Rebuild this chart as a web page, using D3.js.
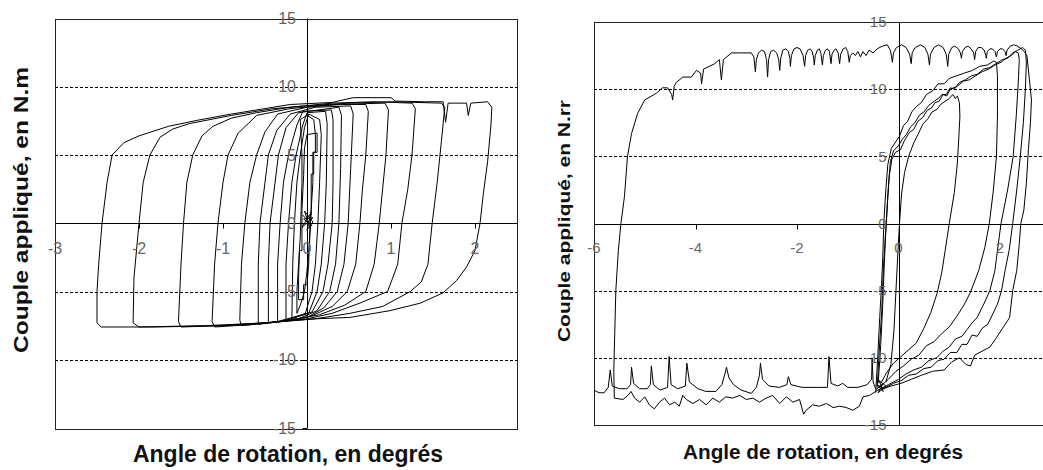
<!DOCTYPE html>
<html>
<head>
<meta charset="utf-8">
<title>Couple appliqué / angle de rotation</title>
<script src="https://d3js.org/d3.v7.min.js"></script>
<style>
  body { margin: 0; background: #fff; font-family: Arial, "Liberation Sans", sans-serif; }
  .frame { fill: none; stroke: #222; stroke-width: 1px; }
  .grid { stroke: #000; stroke-width: 1px; stroke-dasharray: 3,2; }
  .zero, .tick { stroke: #000; stroke-width: 1px; }
  .curve { fill: none; stroke: #000; stroke-width: 1px; stroke-linejoin: round; }
  .tick-label { fill: #666; }
  .title { font-weight: bold; fill: #111; }
</style>
</head>
<body>
<div id="chart"></div>
<script>
  const width = 1043, height = 470;

  // shared axis values
  const yTicks = [-15, -10, -5, 0, 5, 10, 15];
  const gridY = [-10, -5, 5, 10];
  const leftXTicks = [-3, -2, -1, 0, 1, 2];
  const rightXTicks = [-6, -4, -2, 0, 2];

  // left panel: nested hysteresis loops, [angle, couple]
  const leftLoop1 = [[-0.2,8.7],[0.3,8.85],[0.55,9.2],[1.0,9.2],[1.05,8.95],[1.4,8.9],[1.62,8.9],[1.65,7.4],[1.68,8.8],[1.9,8.8],[1.92,7.9],[1.95,8.8],[2.15,8.9],[2.2,8.5],[2.19,7.2],[2.15,4.5],[2.1,2.2],[2.06,0],[2.0,-2],[1.9,-3.2],[1.78,-4.2],[1.62,-5.1],[1.35,-5.85],[0.99,-6.4],[0.51,-6.9],[0.1,-7.0],[-0.3,-7.2],[-1.0,-7.5],[-1.8,-7.6],[-2.45,-7.6],[-2.5,-7.3],[-2.5,-5],[-2.48,-3],[-2.44,0],[-2.38,3],[-2.32,5],[-2.18,5.9],[-2.0,6.4],[-1.65,7.1],[-1.3,7.55],[-0.9,8.0],[-0.5,8.4],[-0.2,8.7]];
  const leftLoop2 = [[-1.4,7.3],[-0.9,7.9],[-0.4,8.4],[0,8.6],[0.5,8.8],[1.0,8.9],[1.6,8.8],[1.64,8.5],[1.6,6],[1.55,3],[1.49,0],[1.44,-3],[1.36,-4.3],[1.23,-5],[0.9,-6.1],[0.51,-6.6],[0.1,-7.0],[-0.5,-7.3],[-1.2,-7.5],[-2.0,-7.6],[-2.07,-7.3],[-2.06,-4],[-2.0,0],[-1.95,3],[-1.87,5],[-1.75,6.3],[-1.6,6.9],[-1.4,7.3]];
  const leftLoop3 = [[-0.9,7.7],[-0.6,8.1],[-0.2,8.5],[0.3,8.8],[0.8,8.9],[1.25,8.8],[1.29,8.4],[1.25,5],[1.2,2.5],[1.13,0],[1.08,-3],[0.96,-5],[0.63,-5.85],[0.3,-6.6],[0,-7.0],[-0.5,-7.3],[-1.0,-7.5],[-1.5,-7.6],[-1.53,-7.2],[-1.5,-3],[-1.47,0],[-1.43,3],[-1.36,5],[-1.25,6.4],[-1.12,7.1],[-0.9,7.7]];
  const leftLoop4 = [[-0.6,7.9],[-0.2,8.4],[0.3,8.7],[0.93,8.8],[0.97,8.3],[0.94,5],[0.9,2.5],[0.86,0],[0.8,-3],[0.7,-5],[0.45,-6.0],[0.15,-6.7],[-0.2,-7.1],[-0.6,-7.4],[-1.1,-7.6],[-1.13,-7.2],[-1.1,-3],[-1.06,0],[-1.0,3],[-0.94,5],[-0.82,6.6],[-0.7,7.3],[-0.6,7.9]];
  const leftLoop5 = [[-0.35,8.0],[0,8.5],[0.4,8.7],[0.7,8.7],[0.73,8.2],[0.7,5],[0.66,2.5],[0.63,0],[0.58,-3],[0.48,-5],[0.3,-6.1],[0.05,-6.8],[-0.3,-7.2],[-0.78,-7.5],[-0.8,-7.1],[-0.78,-3],[-0.74,0],[-0.68,3],[-0.6,5],[-0.5,6.7],[-0.35,8.0]];
  const leftLoop6 = [[-0.2,8.0],[0.1,8.5],[0.52,8.6],[0.55,8.0],[0.52,4],[0.49,0],[0.44,-3],[0.36,-5],[0.2,-6.2],[0,-6.9],[-0.3,-7.2],[-0.58,-7.4],[-0.58,-3],[-0.56,0],[-0.5,3],[-0.46,5],[-0.36,6.8],[-0.2,8.0]];
  const leftLoop7 = [[-0.1,8.1],[0.38,8.5],[0.41,7.9],[0.4,4],[0.38,0],[0.34,-3],[0.27,-5],[0.12,-6.4],[-0.1,-7.0],[-0.46,-7.3],[-0.46,-3],[-0.44,0],[-0.38,3],[-0.34,5],[-0.25,7],[-0.1,8.1]];
  const leftLoop8 = [[-0.05,8.2],[0.29,8.3],[0.31,7.6],[0.31,3],[0.30,0],[0.25,-3],[0.19,-5],[0.06,-6.5],[-0.35,-7.2],[-0.35,-3],[-0.32,0],[-0.28,3],[-0.22,5],[-0.12,7.2],[-0.05,8.2]];
  const leftLoop9 = [[0,8.1],[0.22,8.2],[0.24,7.3],[0.23,3],[0.21,0],[0.17,-3],[0.12,-5],[0.02,-6.6],[-0.25,-7.1],[-0.25,-3],[-0.22,0],[-0.18,3],[-0.13,5],[-0.05,7.2],[0,8.1]];
  const leftLoop10 = [[0.02,8.0],[0.15,7.6],[0.17,6.5],[0.15,3],[0.13,0],[0.1,-3],[0.06,-5],[-0.02,-6.6],[-0.18,-7.0],[-0.17,-3],[-0.15,0],[-0.12,3],[-0.08,5],[-0.03,7],[0.02,8.0]];
  const leftLoop11 = [[-0.08,7.6],[0.0,7.9],[0.08,7.6],[0.1,6.5],[0.1,5.2],[0.07,5.2],[0.07,3.0],[0.05,1.0],[0.03,-1.5],[0.0,-3.5],[-0.03,-5.0],[-0.08,-6.0],[-0.12,-6.6],[-0.12,-5.0],[-0.1,-3.0],[-0.08,-1.0],[-0.07,1.0],[-0.06,3.0],[-0.06,5.0],[-0.08,7.6]];
  const leftLoop12 = [[0.0,6.5],[0.12,6.6],[0.12,5.2],[0.08,5.2],[0.08,3.6],[0.05,3.6],[0.05,1.0],[0.03,-1.0],[0.02,-3.0],[0.0,-4.5],[-0.04,-4.5],[-0.04,-5.6],[-0.1,-5.6],[-0.1,-4.0],[-0.09,-2.0],[-0.06,-2.0],[-0.06,1.0],[-0.04,3.5],[-0.03,5.5],[0.0,6.5]];
  const leftCentre = [[-0.05,0.6],[0.06,-0.2],[-0.04,0.3],[0.07,0.4],[-0.06,-0.3],[0.05,0.8],[0.0,-0.5],[0.07,0.1],[-0.03,0.9],[0.04,-0.4]];

  // right panel: large excursion plus the loops near zero
  const rightUpperBottom = [[-6.1,-12.2],[-6.0,-12.4],[-5.9,-12.6],[-5.8,-12.6],[-5.72,-12.2],[-5.68,-10.9],[-5.64,-12.1],[-5.5,-12.3],[-5.35,-12.3],[-5.28,-12.0],[-5.26,-10.7],[-5.22,-11.9],[-5.1,-12.3],[-4.95,-12.3],[-4.89,-12.0],[-4.87,-10.6],[-4.83,-12.0],[-4.7,-12.4],[-4.55,-12.2],[-4.52,-9.9],[-4.48,-12.0],[-4.35,-12.3],[-4.2,-12.1],[-4.17,-10.4],[-4.12,-11.8],[-3.95,-12.3],[-3.8,-12.5],[-3.6,-12.5],[-3.48,-12.0],[-3.42,-11.2],[-3.39,-10.7],[-3.34,-11.5],[-3.25,-12.0],[-3.1,-12.4],[-2.9,-12.65],[-2.8,-12.2],[-2.74,-11.3],[-2.72,-10.4],[-2.68,-11.6],[-2.55,-12.1],[-2.35,-12.2],[-2.2,-12.0],[-2.17,-11.4],[-2.12,-12.0],[-1.9,-12.2],[-1.6,-12.2],[-1.4,-12.2],[-1.37,-9.9],[-1.33,-11.9],[-1.2,-12.1],[-1.1,-11.9],[-1.0,-12.2],[-0.8,-12.2],[-0.62,-12.0],[-0.53,-11.6],[-0.52,-10.0],[-0.5,-11.8],[-0.45,-12.3]];
  const rightBigLoop = [[-0.35,-12.3],[-0.45,-12.5],[-0.57,-12.8],[-0.7,-12.9],[-0.77,-13.6],[-0.9,-13.9],[-1.03,-13.7],[-1.16,-13.6],[-1.29,-13.7],[-1.42,-13.4],[-1.56,-13.6],[-1.69,-13.5],[-1.82,-13.9],[-1.87,-14.2],[-1.95,-13.1],[-2.08,-13.3],[-2.21,-12.9],[-2.34,-13.4],[-2.48,-12.8],[-2.61,-13.0],[-2.74,-13.3],[-2.87,-13.0],[-3.0,-13.1],[-3.13,-12.8],[-3.27,-13.0],[-3.4,-12.9],[-3.53,-13.3],[-3.66,-13.0],[-3.79,-13.5],[-3.92,-13.1],[-4.05,-13.4],[-4.18,-13.1],[-4.25,-12.8],[-4.32,-13.6],[-4.41,-13.3],[-4.51,-13.5],[-4.61,-13.0],[-4.71,-13.3],[-4.81,-13.8],[-4.91,-13.5],[-5.0,-12.9],[-5.1,-13.3],[-5.2,-13.0],[-5.27,-12.5],[-5.33,-12.8],[-5.43,-13.1],[-5.6,-13.0],[-5.61,-11],[-5.59,-8],[-5.57,-5],[-5.52,-2],[-5.47,0],[-5.4,2],[-5.34,5.0],[-5.26,6.7],[-5.14,8.2],[-5.0,9.2],[-4.77,9.7],[-4.65,10.1],[-4.55,10.1],[-4.47,9.6],[-4.45,9.2],[-4.42,10.2],[-4.38,10.5],[-4.25,10.9],[-4.08,10.9],[-3.98,11.4],[-3.9,11.2],[-3.88,10.4],[-3.84,11.5],[-3.62,11.9],[-3.53,12.2],[-3.49,10.7],[-3.45,12.2],[-3.29,12.7],[-3.13,12.7],[-2.9,12.7],[-2.85,12.4],[-2.82,11.3],[-2.8,12.2],[-2.76,12.7],[-2.7,12.9],[-2.64,12.8],[-2.6,12.2],[-2.58,10.9],[-2.56,12.2],[-2.52,12.8],[-2.46,12.9],[-2.4,12.7],[-2.36,12.2],[-2.34,11.4],[-2.32,12.3],[-2.28,12.9],[-2.22,13.0],[-2.17,12.8],[-2.14,12.3],[-2.13,11.7],[-2.11,12.5],[-2.06,13.0],[-2.0,13.1],[-1.94,13.0],[-1.88,12.5],[-1.85,11.7],[-1.83,12.5],[-1.79,12.9],[-1.74,13.0],[-1.7,12.8],[-1.67,12.3],[-1.66,11.8],[-1.64,12.5],[-1.6,12.9],[-1.56,13.0],[-1.53,12.7],[-1.5,11.8],[-1.48,12.5],[-1.44,12.9],[-1.4,13.0],[-1.36,12.8],[-1.33,11.9],[-1.31,12.6],[-1.27,12.9],[-1.23,13.0],[-1.19,12.7],[-1.16,11.9],[-1.14,12.6],[-1.09,13.0],[-1.04,13.1],[-1.0,12.8],[-0.97,12.0],[-0.95,12.5],[-0.9,12.7],[-0.85,12.5],[-0.8,12.8],[-0.75,12.4],[-0.7,12.8],[-0.64,12.5],[-0.58,12.9],[-0.5,12.7],[-0.42,13.0],[-0.32,13.2],[-0.22,13.3],[-0.16,12.9],[-0.12,12.0],[-0.1,12.7],[-0.04,13.1],[0.06,13.3],[0.15,13.1],[0.22,12.6],[0.25,11.9],[0.27,12.7],[0.33,13.1],[0.43,13.3],[0.52,13.1],[0.58,12.6],[0.61,11.8],[0.63,12.6],[0.7,13.1],[0.79,13.3],[0.88,13.1],[0.94,12.6],[0.97,11.7],[0.99,12.6],[1.05,13.1],[1.11,13.2],[1.18,13.0],[1.22,12.7],[1.24,12.3],[1.26,12.8],[1.31,13.1],[1.37,13.2],[1.43,13.0],[1.48,12.7],[1.5,12.2],[1.52,12.8],[1.57,13.1],[1.63,13.1],[1.69,12.9],[1.72,12.5],[1.73,12.3],[1.75,12.8],[1.8,13.0],[1.85,13.0],[1.9,12.8],[1.93,12.4],[1.95,12.8],[2.0,13.0],[2.05,13.0],[2.1,12.8],[2.12,12.5],[2.14,12.9],[2.2,13.2],[2.27,13.3],[2.35,13.2],[2.42,13.0],[2.48,12.8],[2.53,12.5],[2.58,10.7],[2.62,9.2],[2.6,7.5],[2.56,5.5],[2.52,3],[2.47,1],[2.41,0],[2.38,-1.5],[2.33,-3.5],[2.25,-5],[2.22,-6],[2.19,-7],[2.05,-7.8],[1.93,-8.5],[1.8,-9.2],[1.65,-9.5],[1.5,-9.8],[1.42,-10.6],[1.33,-10.5],[1.2,-10.0],[1.05,-10.3],[0.9,-10.9],[0.67,-11.0],[0.45,-11.3],[0.25,-11.6],[0.05,-11.9],[-0.15,-12.1],[-0.3,-12.3]];
  const rightLoopA = [[-0.25,-11.8],[-0.15,-10.5],[-0.09,-8],[-0.05,-5],[-0.01,-2],[0.02,0],[0.06,2.2],[0.12,3.8],[0.2,5.0],[0.3,6.0],[0.38,6.6],[0.48,7.4],[0.58,7.8],[0.66,8.3],[0.76,8.5],[0.84,8.9],[0.92,9.1],[1.0,9.3],[1.07,9.6],[1.12,9.3],[1.16,9.5],[1.2,9.0],[1.21,8.0],[1.19,6.5],[1.16,4.5],[1.1,2.3],[1.0,0],[0.92,-2],[0.85,-3.7],[0.76,-5.2],[0.64,-6.6],[0.5,-7.8],[0.35,-8.9],[0.2,-9.4],[0.05,-9.9],[-0.1,-10.4],[-0.25,-11.2],[-0.35,-11.9]];
  const rightLoopB = [[-0.45,-12.6],[-0.41,-10],[-0.37,-7],[-0.34,-5],[-0.31,-2.5],[-0.29,0],[-0.25,2.5],[-0.21,4.4],[-0.14,5.6],[-0.05,6.1],[0.02,6.5],[0.1,7.3],[0.18,7.6],[0.26,8.3],[0.35,8.7],[0.45,9.0],[0.55,9.6],[0.68,9.9],[0.78,10.4],[0.9,10.4],[1.0,10.8],[1.15,11.0],[1.3,11.2],[1.46,11.4],[1.6,11.7],[1.75,11.8],[1.88,12.1],[1.93,12.0],[1.95,11.0],[1.95,8],[1.93,5],[1.87,2.5],[1.79,0],[1.7,-1.8],[1.58,-3.5],[1.42,-5.1],[1.3,-6.0],[1.15,-6.9],[1.0,-7.7],[0.85,-8.2],[0.7,-8.8],[0.55,-9.1],[0.4,-9.8],[0.25,-10.1],[0.1,-10.6],[-0.05,-11.0],[-0.2,-11.6],[-0.38,-12.2]];
  const rightLoopC = [[-0.42,-12.2],[-0.38,-9.5],[-0.33,-6.5],[-0.3,-3.5],[-0.26,-1],[-0.24,0],[-0.21,2],[-0.18,3.6],[-0.13,4.8],[-0.06,5.3],[0.04,5.5],[0.12,6.2],[0.22,6.8],[0.3,7.0],[0.38,7.6],[0.48,7.9],[0.56,8.4],[0.65,8.6],[0.72,9.0],[0.8,9.1],[0.88,9.6],[0.95,9.5],[1.02,10.0],[1.15,10.2],[1.28,10.6],[1.4,10.7],[1.52,11.0],[1.65,11.3],[1.78,11.5],[1.9,11.8],[2.02,12.0],[2.12,12.3],[2.22,12.5],[2.3,12.8],[2.36,12.7],[2.38,12.2],[2.36,10.5],[2.32,8],[2.26,5],[2.15,2.5],[2.02,0],[1.95,-2],[1.9,-3.5],[1.8,-5.0],[1.68,-6.0],[1.55,-7.0],[1.45,-7.4],[1.35,-7.9],[1.25,-8.4],[1.12,-8.6],[1.0,-9.2],[0.88,-9.5],[0.75,-10.0],[0.6,-10.2],[0.45,-10.7],[0.3,-10.9],[0.15,-11.2],[0,-11.6],[-0.2,-12.0],[-0.4,-12.4]];
  const rightLoopD = [[-0.4,-11.9],[-0.35,-9],[-0.31,-6],[-0.28,-3],[-0.25,-0.5],[-0.22,1.5],[-0.19,3.2],[-0.16,4.6],[-0.1,5.4],[0.0,5.8],[0.08,6.3],[0.15,6.6],[0.24,7.2],[0.32,7.5],[0.42,8.1],[0.5,8.3],[0.6,8.8],[0.7,9.1],[0.78,9.3],[0.86,9.6],[0.94,9.6],[1.02,10.1],[1.1,10.0],[1.2,10.5],[1.32,10.7],[1.44,11.0],[1.55,11.1],[1.68,11.5],[1.8,11.6],[1.92,11.9],[2.05,12.2],[2.15,12.3],[2.25,12.7],[2.35,12.9],[2.45,13.1],[2.5,12.9],[2.52,12.0],[2.5,10],[2.46,7.5],[2.4,5],[2.33,2.5],[2.25,0],[2.18,-2],[2.1,-3.5],[2.03,-5.0],[1.95,-6.0],[1.85,-6.8],[1.76,-7.5],[1.65,-7.8],[1.55,-8.4],[1.45,-8.3],[1.35,-9.0],[1.25,-9.0],[1.15,-9.6],[1.02,-9.6],[0.9,-10.1],[0.78,-10.2],[0.64,-10.7],[0.5,-10.8],[0.35,-11.2],[0.2,-11.3],[0.05,-11.7],[-0.1,-11.9],[-0.3,-12.3]];
  const rightKnot = [[-0.45,-12.4],[-0.3,-11.9],[-0.4,-12.6],[-0.25,-12.1],[-0.38,-11.7],[-0.3,-12.5],[-0.42,-12.0],[-0.28,-12.3]];

  const svg = d3.select("#chart").append("svg")
    .attr("width", width)
    .attr("height", height);

  function drawPanel(opt) {
    const x = d3.scaleLinear().domain(opt.xDomain).range(opt.xRange);
    const y = d3.scaleLinear().domain([-15, 15]).range(opt.yRange);
    const g = svg.append("g");
    const left = opt.xRange[0], right = opt.xRange[1];
    const top = opt.yRange[1], bottom = opt.yRange[0];
    const px = v => Math.round(v) + 0.5;

    g.append("clipPath").attr("id", opt.id)
      .append("rect")
      .attr("x", left).attr("y", top)
      .attr("width", right - left).attr("height", bottom - top);

    // dashed horizontal grid
    g.selectAll(".grid").data(gridY).enter().append("line")
      .attr("class", "grid")
      .attr("x1", left).attr("x2", right)
      .attr("y1", d => px(y(d))).attr("y2", d => px(y(d)));

    // axes through zero
    g.append("line").attr("class", "zero")
      .attr("x1", left).attr("x2", right)
      .attr("y1", px(y(0))).attr("y2", px(y(0)));
    g.append("line").attr("class", "zero")
      .attr("x1", px(x(0))).attr("x2", px(x(0)))
      .attr("y1", top).attr("y2", bottom);

    // tick marks
    g.selectAll(".xt").data(opt.xTicks).enter().append("line")
      .attr("class", "tick")
      .attr("x1", d => px(x(d))).attr("x2", d => px(x(d)))
      .attr("y1", px(y(0))).attr("y2", px(y(0)) + 5);
    g.selectAll(".yt").data(yTicks).enter().append("line")
      .attr("class", "tick")
      .attr("x1", px(x(0)) - 5).attr("x2", px(x(0)))
      .attr("y1", d => px(y(d))).attr("y2", d => px(y(d)));

    // curves
    const line = d3.line().x(d => x(d[0])).y(d => y(d[1]));
    g.append("g").attr("clip-path", `url(#${opt.id})`)
      .selectAll("path").data(opt.paths).enter().append("path")
      .attr("class", "curve")
      .attr("d", line);

    // frame
    g.append("rect").attr("class", "frame")
      .attr("x", px(left)).attr("y", px(top))
      .attr("width", Math.round(right - left)).attr("height", Math.round(bottom - top));

    // tick labels
    g.selectAll(".yl").data(yTicks).enter().append("text")
      .attr("class", "tick-label")
      .attr("x", x(0) - opt.yLabelGap)
      .attr("y", d => y(d))
      .attr("dy", "0.35em")
      .attr("text-anchor", "end")
      .style("font-size", opt.labelSize + "px")
      .text(d => d);
    g.selectAll(".xl").data(opt.xTicks).enter().append("text")
      .attr("class", "tick-label")
      .attr("x", d => x(d))
      .attr("y", y(0) + opt.xLabelGap)
      .attr("text-anchor", "middle")
      .style("font-size", opt.labelSize + "px")
      .text(d => d);

    // axis titles
    g.append("text").attr("class", "title")
      .attr("transform", `translate(${opt.yTitle.x},${opt.yTitle.y}) rotate(-90)`)
      .attr("text-anchor", "middle")
      .attr("textLength", opt.yTitle.len)
      .attr("lengthAdjust", "spacingAndGlyphs")
      .style("font-size", opt.yTitle.size + "px")
      .text(opt.yTitle.text);
    g.append("text").attr("class", "title")
      .attr("x", opt.xTitle.x).attr("y", opt.xTitle.y)
      .attr("text-anchor", "middle")
      .attr("textLength", opt.xTitle.len)
      .attr("lengthAdjust", "spacingAndGlyphs")
      .style("font-size", opt.xTitle.size + "px")
      .text(opt.xTitle.text);
  }

  drawPanel({
    id: "clip-left",
    xDomain: [-3, 2.5], xRange: [55, 517],
    yRange: [428, 18.5],
    xTicks: leftXTicks,
    labelSize: 16, yLabelGap: 11, xLabelGap: 31,
    paths: [leftLoop1, leftLoop2, leftLoop3, leftLoop4, leftLoop5, leftLoop6, leftLoop7,
            leftLoop8, leftLoop9, leftLoop10, leftLoop11, leftLoop12, leftCentre],
    yTitle: { text: "Couple appliqué, en N.m", x: 28, y: 210, len: 286, size: 20 },
    xTitle: { text: "Angle de rotation, en degrés", x: 288, y: 462, len: 310, size: 24 }
  });

  drawPanel({
    id: "clip-right",
    xDomain: [-6, 3], xRange: [594, 1050.75],
    yRange: [425, 22],
    xTicks: rightXTicks,
    labelSize: 15, yLabelGap: 12, xLabelGap: 29,
    paths: [rightUpperBottom, rightBigLoop, rightLoopA, rightLoopB, rightLoopC, rightLoopD, rightKnot],
    yTitle: { text: "Couple appliqué, en N.rr", x: 570, y: 221, len: 242, size: 17 },
    xTitle: { text: "Angle de rotation, en degrés", x: 823, y: 459, len: 280, size: 20 }
  });
</script>
</body>
</html>
